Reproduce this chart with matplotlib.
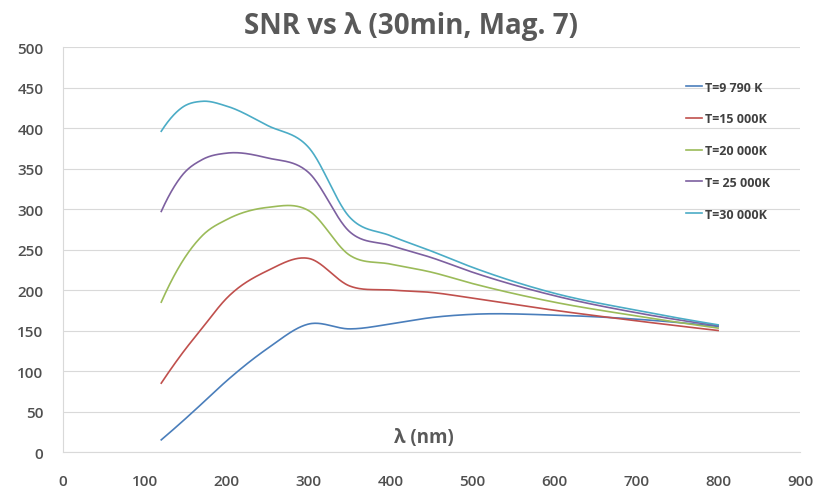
import numpy as np
import matplotlib
matplotlib.use('Agg')
import matplotlib.pyplot as plt

plt.rcParams['font.family'] = ['Open Sans', 'DejaVu Sans']

# wavelength (nm)
wl = [120, 145, 170, 200, 250, 300, 350, 400, 450, 500, 600, 700, 800]

# SNR values
snr_9790 = [15, 37, 60, 88, 128, 158, 152, 158, 166, 170, 169, 164, 155]
snr_15000 = [85, 121, 153, 190, 224, 239, 205, 200, 197, 190, 175, 162, 150]
snr_20000 = [185, 234, 267, 287, 302, 298, 243, 232, 222, 208, 185, 168, 153]
snr_25000 = [297, 341, 361, 369, 363, 345, 272, 255, 240, 222, 193, 172, 156]
snr_30000 = [396, 425, 433, 427, 403, 376, 290, 267, 248, 228, 196, 175, 157]

labels = ['T=9 790 K', 'T=15 000K', 'T=20 000K', 'T= 25 000K', 'T=30 000K']
colors = ['#4A7EBB', '#C0504D', '#9BBB59', '#7D60A0', '#4BACC6']


def smooth(x, y, n=40):
    # cubic hermite through the points, parabola slopes at each point
    x = np.asarray(x, float)
    y = np.asarray(y, float)
    h = np.diff(x)
    d = np.diff(y) / h
    m = np.zeros_like(y)
    m[1:-1] = (h[1:] * d[:-1] + h[:-1] * d[1:]) / (h[:-1] + h[1:])
    m[0] = 2 * d[0] - m[1]
    m[-1] = 2 * d[-1] - m[-2]
    xs, ys = [], []
    t = np.linspace(0, 1, n)
    for i in range(len(x) - 1):
        h00 = 2 * t ** 3 - 3 * t ** 2 + 1
        h10 = t ** 3 - 2 * t ** 2 + t
        h01 = -2 * t ** 3 + 3 * t ** 2
        h11 = t ** 3 - t ** 2
        xs.extend(x[i] + t * h[i])
        ys.extend(h00 * y[i] + h10 * h[i] * m[i] + h01 * y[i + 1] + h11 * h[i] * m[i + 1])
    return xs, ys


fig = plt.figure(figsize=(8.18, 4.89), dpi=100)
ax = fig.add_axes([0.077, 0.0736, 0.901, 0.8282])

series = [snr_9790, snr_15000, snr_20000, snr_25000, snr_30000]
for s, lab, c in zip(series, labels, colors):
    sx, sy = smooth(wl, s)
    ax.plot(sx, sy, color=c, lw=1.2, label=lab)

ax.set_xlim(0, 900)
ax.set_ylim(0, 500)
ax.set_xticks(range(0, 901, 100))
ax.set_yticks(range(0, 501, 50))
ax.yaxis.grid(True, color='#d9d9d9', lw=0.8)
ax.set_axisbelow(True)
for sp in ['top', 'right']:
    ax.spines[sp].set_visible(False)
ax.spines['bottom'].set_color('#d9d9d9')
ax.spines['left'].set_color('#d9d9d9')
ax.tick_params(length=0, labelsize=11, colors='#505050')
ax.tick_params(axis='y', pad=14)
ax.tick_params(axis='x', pad=16)
for lbl in ax.get_xticklabels() + ax.get_yticklabels():
    lbl.set_fontweight('semibold')

ax.text(0.49, 0.037, 'λ (nm)', transform=ax.transAxes, ha='center', va='center',
        fontsize=13.5, fontweight='bold', color='#595959')
fig.suptitle('SNR vs λ (30min, Mag. 7)', x=0.502, y=0.975, fontsize=20,
             fontweight='bold', color='#595959')

leg = ax.legend(loc='upper left', bbox_to_anchor=(0.83, 0.945), frameon=False,
                fontsize=9, labelspacing=1.5, handlelength=1.3, handletextpad=0.2)
for t in leg.get_texts():
    t.set_color('#404040')
    t.set_fontweight('bold')

fig.savefig('out.png', dpi=100)
